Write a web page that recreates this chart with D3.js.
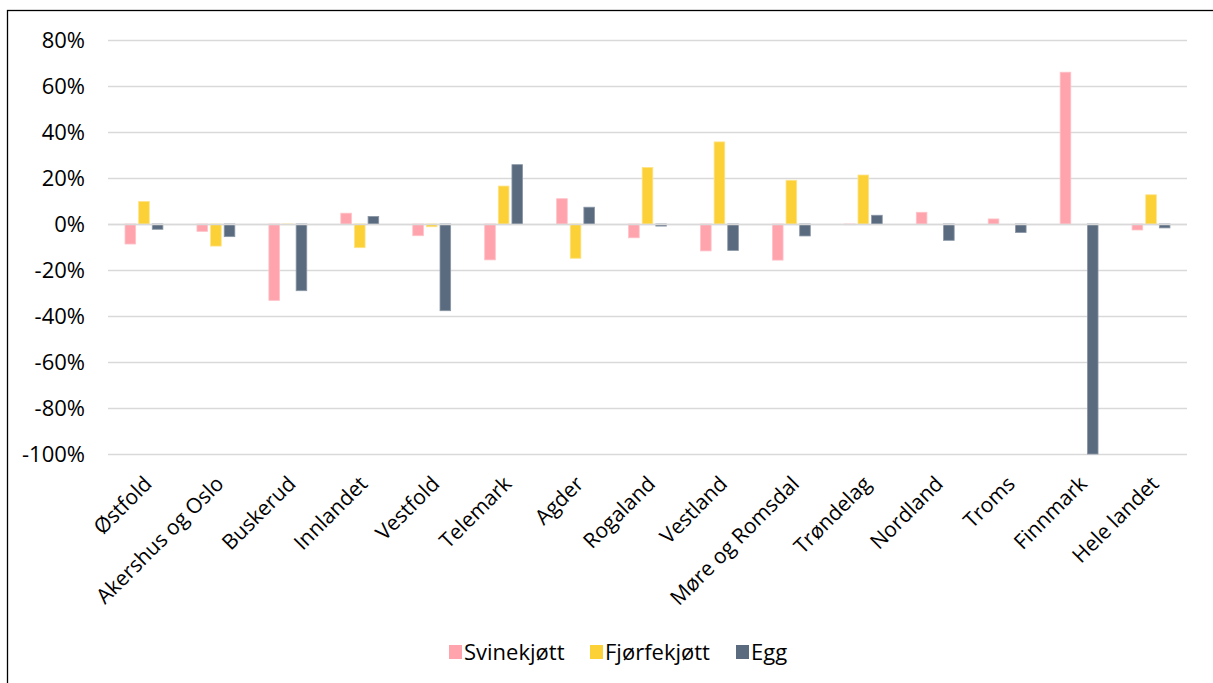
<!DOCTYPE html>
<html>
<head>
<meta charset="utf-8">
<script src="https://cdn.jsdelivr.net/npm/d3@7"></script>
<style>
  body { margin: 0; background: #fff; }
  svg text { font-family: "Open Sans", "Noto Sans", sans-serif; fill: #000; }
</style>
</head>
<body>
<svg id="chart" width="1213" height="683"></svg>
<script>
var width = 1213,
    height = 683;

// data
var regions = ["Østfold", "Akershus og Oslo", "Buskerud", "Innlandet", "Vestfold", "Telemark",
               "Agder", "Rogaland", "Vestland", "Møre og Romsdal", "Trøndelag", "Nordland",
               "Troms", "Finnmark", "Hele landet"];
var seriesNames = ["Svinekjøtt", "Fjørfekjøtt", "Egg"];
var svinekjott = [-8.7, -3.2, -33.2, 4.7, -5.1, -15.6, 11.0, -6.0, -11.7, -15.7, -0.3, 5.1, 2.2, 66.0, -2.6];
var fjorfekjott = [9.8, -9.6, -0.3, -10.3, -1.2, 16.5, -14.9, 24.6, 35.7, 19.0, 21.3, 0, 0, 0, 12.7];
var egg = [-2.3, -5.5, -29.0, 3.3, -37.7, 25.8, 7.3, -0.9, -11.5, -5.2, 3.8, -7.1, -3.7, -100, -1.7];
var yTicks = [80, 60, 40, 20, 0, -20, -40, -60, -80, -100];
var colors = ["#ffa4ad", "#fbd137", "#5a6b7f"];
var strokes = ["#ffc2c8", "#fde38a", "#8a97a6"];

var values = [svinekjott, fjorfekjott, egg];

var svg = d3.select("#chart");

// outer frame
svg.append("rect")
   .attr("x", 7.5).attr("y", 10.5)
   .attr("width", width + 20).attr("height", height + 20)
   .attr("fill", "none")
   .attr("stroke", "#000")
   .attr("stroke-width", 1.3);

var plotLeft = 108, plotRight = 1187, plotTop = 40, plotBottom = 454;

var x0 = d3.scaleBand().domain(regions).range([plotLeft, plotRight]).paddingInner(0).paddingOuter(0);
var x1 = d3.scaleBand().domain(seriesNames).range([0, x0.bandwidth()]).paddingInner(0.22).paddingOuter(1.25);
var y = d3.scaleLinear().domain([-100, 80]).range([plotBottom, plotTop]);

// grid
svg.append("g").selectAll("line")
   .data(yTicks)
   .enter().append("line")
   .attr("x1", plotLeft).attr("x2", plotRight)
   .attr("y1", function(d) { return Math.round(y(d)) + 0.5; })
   .attr("y2", function(d) { return Math.round(y(d)) + 0.5; })
   .attr("stroke", "#d9d9d9")
   .attr("stroke-width", 1.5);

// y labels
svg.append("g").selectAll("text")
   .data(yTicks)
   .enter().append("text")
   .attr("x", 85)
   .attr("y", function(d) { return y(d); })
   .attr("dy", "0.36em")
   .attr("text-anchor", "end")
   .style("font-size", "22px")
   .text(function(d) { return d + "%"; });

// bars
var groups = svg.append("g").selectAll("g")
   .data(regions)
   .enter().append("g")
   .attr("transform", function(d) { return "translate(" + x0(d) + ",0)"; });

groups.selectAll("rect")
   .data(function(d, i) {
     return seriesNames.map(function(s, k) { return { s: s, k: k, v: values[k][i] }; });
   })
   .enter().append("rect")
   .attr("x", function(d) { return x1(d.s); })
   .attr("width", x1.bandwidth())
   .attr("y", function(d) { return y(Math.max(0, d.v)); })
   .attr("height", function(d) { return Math.abs(y(d.v) - y(0)); })
   .attr("fill", function(d) { return colors[d.k]; })
   .attr("stroke", function(d) { return strokes[d.k]; })
   .attr("stroke-width", 0.8);

// zero line on top
svg.append("line")
   .attr("x1", plotLeft).attr("x2", plotRight)
   .attr("y1", Math.round(y(0)) + 0.5).attr("y2", Math.round(y(0)) + 0.5)
   .attr("stroke", "#d9d9d9")
   .attr("stroke-width", 1.5);

// x labels
svg.append("g").selectAll("text")
   .data(regions)
   .enter().append("text")
   .attr("transform", function(d) {
     return "translate(" + (x0(d) + x0.bandwidth() / 2 - 2) + "," + 474 + ") rotate(-45)";
   })
   .attr("dy", "0.75em")
   .attr("text-anchor", "end")
   .style("font-size", "21px")
   .text(function(d) { return d; });

// legend
var legendX = [449, 590, 736];
var legend = svg.append("g").selectAll("g")
   .data(seriesNames)
   .enter().append("g")
   .attr("transform", function(d, i) { return "translate(" + legendX[i] + ",645)"; });

legend.append("rect")
   .attr("width", 13).attr("height", 14)
   .attr("fill", function(d, i) { return colors[i]; });

legend.append("text")
   .attr("x", 15).attr("y", 7)
   .attr("dy", "0.36em")
   .style("font-size", "22px")
   .text(function(d) { return d; });
</script>
</body>
</html>
